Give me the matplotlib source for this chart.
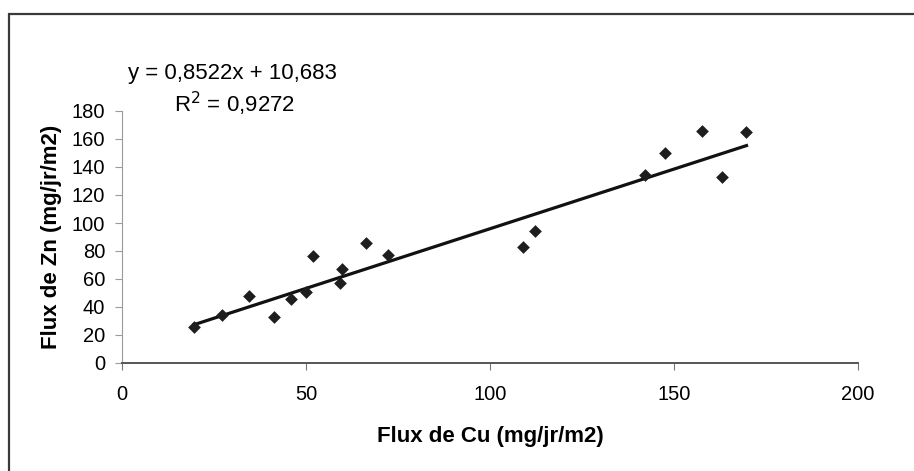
"""Zn vs Cu flux scatter with linear trend line (Excel-style chart)."""

import matplotlib

matplotlib.use("Agg")
import matplotlib.pyplot as plt
from matplotlib.patches import Rectangle

# data
cu_flux = [19.6, 27.1, 34.4, 41.4, 46.0, 50.1, 52.0, 59.3, 59.9, 66.4,
           72.4, 108.9, 112.3, 142.0, 147.5, 157.7, 163.1, 169.7]
zn_flux = [25.5, 34.3, 48.1, 33.1, 45.5, 50.7, 76.6, 56.9, 66.9, 85.5,
           77.4, 83.1, 94.5, 134.0, 150.2, 166.0, 132.6, 165.0]

slope = 0.8522
intercept = 10.683
r2 = 0.9272

x_ticks = [0, 50, 100, 150, 200]
y_ticks = [0, 20, 40, 60, 80, 100, 120, 140, 160, 180]

plt.rcParams["font.family"] = ["Liberation Sans", "DejaVu Sans"]

W, H = 914, 471
fig = plt.figure(figsize=(W / 100, H / 100), dpi=100)
ax = fig.add_axes([122 / W, 1 - 363 / H, (858 - 122) / W, (363 - 111) / H])

ax.scatter(cu_flux, zn_flux, marker="D", s=42, color="#1e1e1e", zorder=3,
           linewidths=0)

x_line = [min(cu_flux), max(cu_flux)]
y_line = [slope * x + intercept for x in x_line]
ax.plot(x_line, y_line, color="#111111", lw=2.3, zorder=2)

ax.set_xlim(0, 200)
ax.set_ylim(0, 180)
ax.set_xticks(x_ticks)
ax.set_yticks(y_ticks)

for side in ("top", "right"):
    ax.spines[side].set_visible(False)
ax.spines["left"].set_color("#9a9a9a")
ax.spines["bottom"].set_color("#555555")
ax.spines["bottom"].set_linewidth(1.4)

ax.tick_params(axis="y", length=5, color="#9a9a9a", pad=7, labelsize=14.5)
ax.tick_params(axis="x", length=5, color="#777777", pad=11, labelsize=14.5)

ax.set_xlabel("Flux de Cu (mg/jr/m2)", fontsize=16, fontweight="bold",
              labelpad=16)
ax.set_ylabel("Flux de Zn (mg/jr/m2)", fontsize=16, fontweight="bold",
              labelpad=7)

fig.text(232 / W, 1 - 74 / H, f"y = {slope:.4f}x + {intercept:.3f}".replace(".", ","),
         ha="center", va="center", fontsize=16)
fig.text(234 / W, 1 - 104 / H, f"R$^2$ = {r2:.4f}".replace(".", ","),
         ha="center", va="center", fontsize=16)

# outer chart frame (only top and left edges fall inside the picture)
fig.patches.append(Rectangle((9 / W, -0.1), 1.1, 1 - 14 / H + 0.1,
                             transform=fig.transFigure, fill=False,
                             edgecolor="#3a3a3a", lw=1.6))

fig.savefig("out.png", dpi=100)
